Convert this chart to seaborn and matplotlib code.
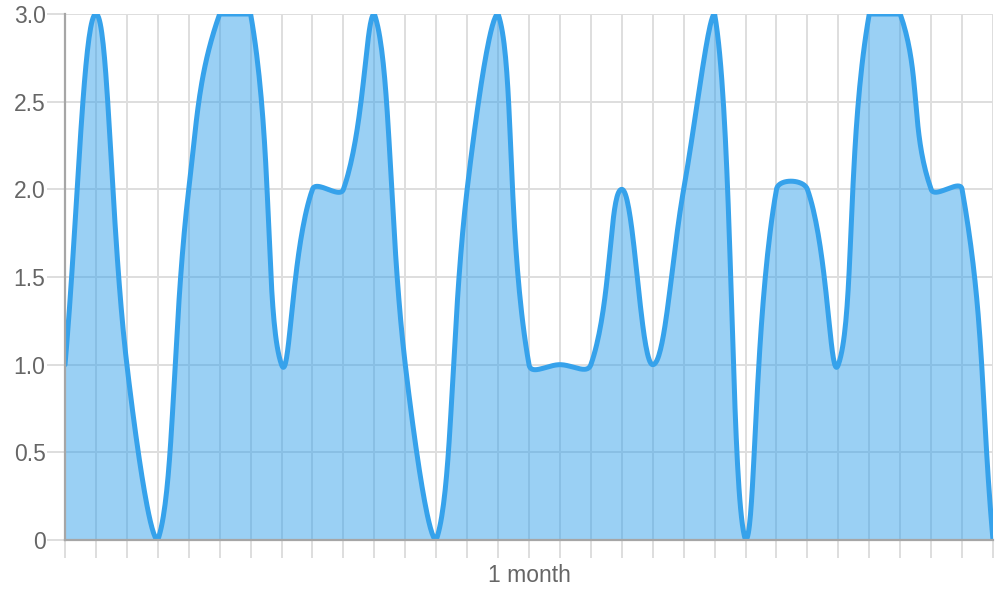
import numpy as np
import pandas as pd
import matplotlib
matplotlib.use("Agg")
import matplotlib.pyplot as plt
import seaborn as sns

# daily values over one month
days = list(range(31))
values = [1, 3, 1, 0, 2, 3, 3, 1, 2, 2, 3, 1, 0, 2, 3, 1, 1, 1, 2, 1,
          2, 3, 0, 2, 2, 1, 3, 3, 2, 2, 0]
y_ticks = [0, 0.5, 1.0, 1.5, 2.0, 2.5, 3.0]
y_tick_labels = ["0", "0.5", "1.0", "1.5", "2.0", "2.5", "3.0"]
x_title = "1 month"

LINE = "#36a2eb"
FILL = (54 / 255, 162 / 255, 235 / 255, 0.5)
GRID = "#dedede"
AXIS = "#a6a6a6"
TEXT = "#666666"

# axes box in pixels (fig 1000x600)
AX_L, AX_R, AX_T, AX_B = 65, 993, 14, 540


def smooth_path(xs, ys, tension=0.4, n=40):
    # bezier smoothing like chart.js, computed in pixel space
    xs = np.asarray(xs, float)
    ys = np.asarray(ys, float)
    sx = (AX_R - AX_L) / (xs[-1] - xs[0])
    sy = (AX_B - AX_T) / 3.0
    px = (xs - xs[0]) * sx
    py = ys * sy
    m = len(px)
    cp_prev = np.zeros((m, 2))
    cp_next = np.zeros((m, 2))
    for i in range(m):
        p = (px[max(i - 1, 0)], py[max(i - 1, 0)])
        c = (px[i], py[i])
        nx = (px[min(i + 1, m - 1)], py[min(i + 1, m - 1)])
        d01 = np.hypot(c[0] - p[0], c[1] - p[1])
        d12 = np.hypot(nx[0] - c[0], nx[1] - c[1])
        tot = d01 + d12
        s01 = d01 / tot if tot else 0
        s12 = d12 / tot if tot else 0
        fa = tension * s01
        fb = tension * s12
        cp_prev[i] = (c[0] - fa * (nx[0] - p[0]), c[1] - fa * (nx[1] - p[1]))
        cp_next[i] = (c[0] + fb * (nx[0] - p[0]), c[1] + fb * (nx[1] - p[1]))
    # cap control points to chart area
    top = AX_B - AX_T
    cp_prev[:, 1] = np.clip(cp_prev[:, 1], 0, top)
    cp_next[:, 1] = np.clip(cp_next[:, 1], 0, top)
    t = np.linspace(0, 1, n)[:, None]
    out = []
    for i in range(m - 1):
        p0 = np.array([px[i], py[i]])
        p3 = np.array([px[i + 1], py[i + 1]])
        p1 = cp_next[i]
        p2 = cp_prev[i + 1]
        seg = ((1 - t) ** 3) * p0 + 3 * ((1 - t) ** 2) * t * p1 \
            + 3 * (1 - t) * t ** 2 * p2 + t ** 3 * p3
        out.append(seg if i == 0 else seg[1:])
    out = np.vstack(out)
    return out[:, 0] / sx + xs[0], out[:, 1] / sy


sns.set_theme(style="white")
plt.rcParams["font.family"] = ["Liberation Sans", "DejaVu Sans"]

fig = plt.figure(figsize=(10, 6), dpi=100)
ax = fig.add_axes([AX_L / 1000, 1 - AX_B / 600,
                   (AX_R - AX_L) / 1000, (AX_B - AX_T) / 600])

cx, cy = smooth_path(days, values)
curve = pd.DataFrame({"day": cx, "value": cy})

ax.fill_between(curve["day"], 0, curve["value"], color=FILL, lw=0, zorder=1)
sns.lineplot(data=curve, x="day", y="value", sort=False, estimator=None,
             color=LINE, linewidth=3.6, ax=ax, zorder=3)

ax.set_xlim(days[0], days[-1])
ax.set_ylim(0, 3)
ax.set_xticks(days)
ax.set_xticklabels([])
ax.set_yticks(y_ticks)
ax.set_yticklabels(y_tick_labels)
ax.grid(True, color=GRID, linewidth=1.4, zorder=0)
ax.set_axisbelow(True)

for side in ["top", "right"]:
    ax.spines[side].set_visible(False)
for side in ["left", "bottom"]:
    ax.spines[side].set_color(AXIS)
    ax.spines[side].set_linewidth(1.6)
    ax.spines[side].set_zorder(4)

ax.tick_params(axis="both", length=13, width=1.4, color=GRID,
               labelsize=16.5, labelcolor=TEXT, pad=1, left=True, bottom=True)
ax.set_xlabel(x_title, fontsize=16.5, color=TEXT, labelpad=3)
ax.set_ylabel("")

fig.savefig("out.png", dpi=100)
